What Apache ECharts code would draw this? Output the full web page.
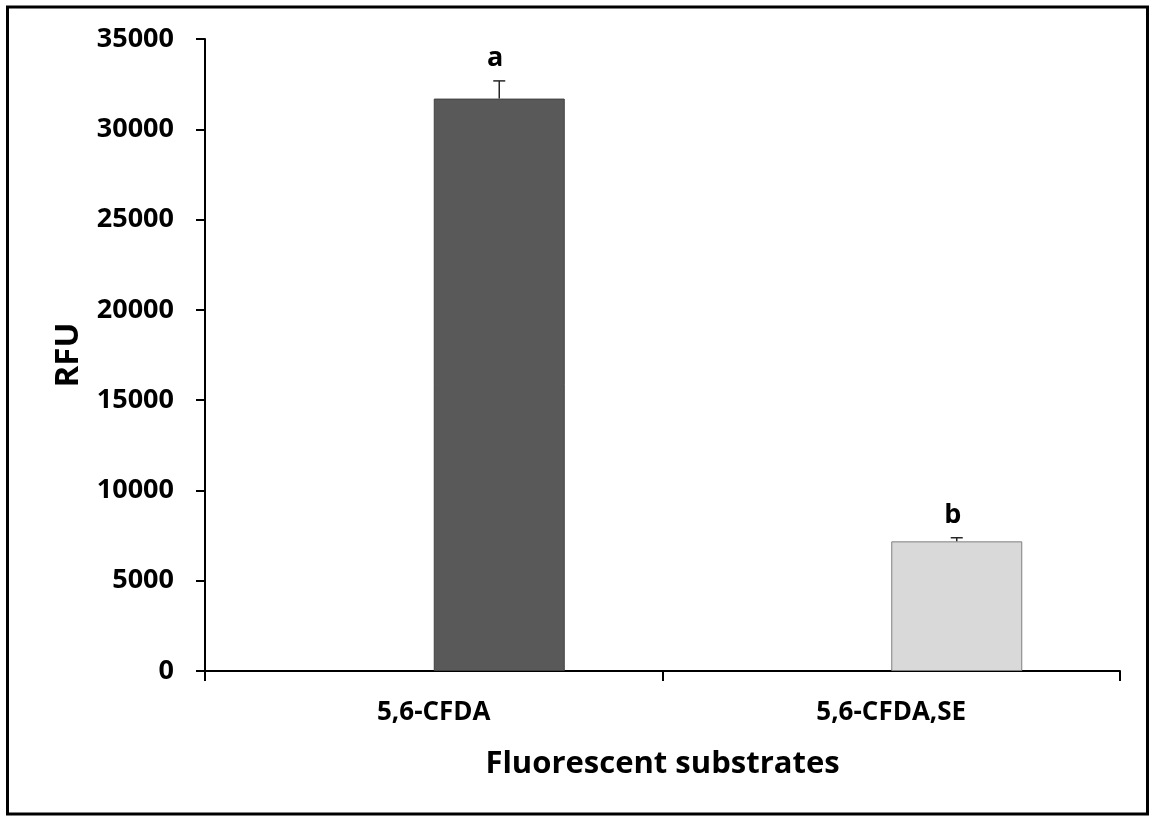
<!DOCTYPE html>
<html>
<head>
<meta charset="utf-8">
<script src="https://cdn.jsdelivr.net/npm/echarts@6/dist/echarts.min.js"></script>
<style>
  html, body { margin: 0; padding: 0; background: #ffffff; }
  #chart { width: 1149px; height: 817px; }
</style>
</head>
<body>
<div id="chart"></div>
<script>
// Fluorescent substrate readings (RFU), mean with error and significance letters
const categories = ['5,6-CFDA', '5,6-CFDA,SE'];
const rfuValues = [31700, 7180];
const rfuErrors = [980, 200];
const groupLetters = ['a', 'b'];
const barColors = ['#595959', '#d9d9d9'];
const barBorders = ['#404040', '#7f7f7f'];
const yTicks = [0, 5000, 10000, 15000, 20000, 25000, 30000, 35000];

const FONT = '"Open Sans", Lato, sans-serif';
const WEIGHT = 'bold';
const BAR_WIDTH = 131;

const chart = echarts.init(document.getElementById('chart'), null, { renderer: 'canvas' });

const option = {
  backgroundColor: '#ffffff',
  animation: false,
  graphic: [{
    type: 'rect',
    shape: { x: 7.5, y: 7, width: 1140, height: 807 },
    style: { fill: 'none', stroke: '#000000', lineWidth: 3 },
    silent: true,
    z: 100
  }],
  grid: { left: 205, right: 29, top: 39, bottom: 146, containLabel: false },
  xAxis: {
    type: 'category',
    data: categories,
    boundaryGap: true,
    name: 'Fluorescent substrates',
    nameLocation: 'middle',
    nameGap: 78,
    nameTextStyle: { fontFamily: FONT, fontWeight: WEIGHT, fontSize: 31, color: '#000' },
    axisLine: { lineStyle: { color: '#000', width: 2 } },
    axisTick: { show: true, length: 10, alignWithLabel: false, lineStyle: { color: '#000', width: 2 } },
    axisLabel: { margin: 29, fontFamily: FONT, fontWeight: WEIGHT, fontSize: 26, color: '#000' },
    splitLine: { show: false }
  },
  yAxis: {
    type: 'value',
    min: yTicks[0],
    max: yTicks[yTicks.length - 1],
    interval: yTicks[1] - yTicks[0],
    name: 'RFU',
    nameLocation: 'middle',
    nameGap: 120,
    nameRotate: 90,
    nameTextStyle: { fontFamily: FONT, fontWeight: WEIGHT, fontSize: 33, color: '#000' },
    axisLine: { show: true, lineStyle: { color: '#000', width: 2 } },
    axisTick: { show: true, length: 9, lineStyle: { color: '#000', width: 2 } },
    axisLabel: {
      margin: 31, fontFamily: FONT, fontWeight: WEIGHT, fontSize: 27, color: '#000',
      formatter: function (v) { return String(v); }
    },
    splitLine: { show: false }
  },
  series: [
    {
      // empty first slot of the clustered layout
      name: 'slot',
      type: 'bar',
      barWidth: BAR_WIDTH,
      barGap: '0%',
      data: categories.map(() => null)
    },
    {
      name: 'RFU',
      type: 'bar',
      barWidth: BAR_WIDTH,
      barGap: '0%',
      data: rfuValues.map((v, i) => ({
        value: v,
        itemStyle: { color: barColors[i], borderColor: barBorders[i], borderWidth: 1 }
      }))
    },
    {
      name: 'error',
      type: 'custom',
      z: 5,
      data: rfuValues.map((v, i) => [i, v, rfuErrors[i]]),
      renderItem: function (params, api) {
        const idx = api.value(0);
        const mean = api.value(1);
        const err = api.value(2);
        const letter = groupLetters[idx];
        const base = api.coord([idx, mean]);
        const top = api.coord([idx, mean + err]);
        const x = base[0] + BAR_WIDTH / 2;
        const capHalf = 6;
        const stroke = { stroke: '#262626', lineWidth: 1.5 };
        return {
          type: 'group',
          children: [
            { type: 'line', shape: { x1: x, y1: base[1], x2: x, y2: top[1] }, style: stroke },
            { type: 'line', shape: { x1: x - capHalf, y1: top[1], x2: x + capHalf, y2: top[1] }, style: stroke },
            {
              type: 'text',
              x: x - 4,
              y: top[1] - 9,
              style: {
                text: letter,
                fill: '#000',
                font: WEIGHT + ' 27px ' + FONT,
                textAlign: 'center',
                textVerticalAlign: 'bottom'
              }
            }
          ]
        };
      }
    }
  ]
};

chart.setOption(option);
</script>
</body>
</html>
